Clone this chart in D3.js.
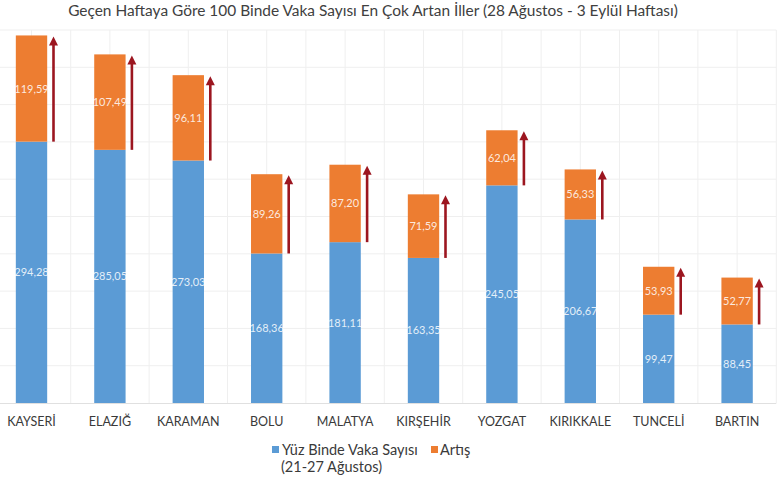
<!DOCTYPE html>
<html>
<head>
<meta charset="utf-8">
<script src="https://cdn.jsdelivr.net/npm/d3@7"></script>
<style>
  html, body { margin: 0; padding: 0; background: #fff; }
  svg { display: block; font-family: Lato, "Open Sans", sans-serif; }
</style>
</head>
<body>
<svg id="chart" width="780" height="480"></svg>
<script>
const title = "Geçen Haftaya Göre 100 Binde Vaka Sayısı En Çok Artan İller (28 Ağustos - 3 Eylül Haftası)";
const categories = ["KAYSERİ","ELAZIĞ","KARAMAN","BOLU","MALATYA","KIRŞEHİR","YOZGAT","KIRIKKALE","TUNCELİ","BARTIN"];
const baseValues = [294.28, 285.05, 273.03, 168.36, 181.11, 163.35, 245.05, 206.67, 99.47, 88.45];
const increaseValues = [119.59, 107.49, 96.11, 89.26, 87.20, 71.59, 62.04, 56.33, 53.93, 52.77];
const seriesNames = ["Yüz Binde Vaka Sayısı", "Artış"];
const legendSubtitle = "(21-27 Ağustos)";
const yMax = 420;
const gridStep = 42;

const colors = { base: "#5b9bd5", inc: "#ed7d31", arrow: "#9c1620", grid: "#efefef", text: "#3a3a3a" };
const fmt = v => v.toFixed(2).replace(".", ",");

const svg = d3.select("#chart");
const x = d3.scaleBand().domain(categories).range([-7.7, 776.3]).paddingInner(0.6).paddingOuter(0.3);
const y = d3.scaleLinear().domain([0, yMax]).range([403, 30]);
const step = x.step();

// gridlines
const grid = svg.append("g");
grid.selectAll("line.h").data(d3.range(gridStep, yMax + 1, gridStep)).join("line")
  .attr("x1", x.range()[0]).attr("x2", x.range()[1])
  .attr("y1", d => y(d)).attr("y2", d => y(d))
  .attr("stroke", colors.grid).attr("stroke-width", 1);
grid.selectAll("line.v").data(d3.range(0, categories.length * 2 + 1)).join("line")
  .attr("x1", d => x.range()[0] + d * step / 2).attr("x2", d => x.range()[0] + d * step / 2)
  .attr("y1", y(yMax)).attr("y2", y(0))
  .attr("stroke", colors.grid).attr("stroke-width", 1);
// axis baseline
svg.append("line").attr("x1", x.range()[0]).attr("x2", x.range()[1])
  .attr("y1", y(0) + 0.5).attr("y2", y(0) + 0.5).attr("stroke", "#e0e0e0");

const data = categories.map((c, i) => ({ c, base: baseValues[i], inc: increaseValues[i] }));

// bars
svg.selectAll("rect.base").data(data).join("rect")
  .attr("x", d => x(d.c)).attr("width", x.bandwidth())
  .attr("y", d => y(d.base)).attr("height", d => y(0) - y(d.base))
  .attr("fill", colors.base);
svg.selectAll("rect.inc").data(data).join("rect")
  .attr("x", d => x(d.c)).attr("width", x.bandwidth())
  .attr("y", d => y(d.base + d.inc)).attr("height", d => y(d.base) - y(d.base + d.inc))
  .attr("fill", colors.inc);

// value labels
const lbl = svg.append("g").attr("font-size", 11).attr("fill", "#fff").attr("fill-opacity", 0.85).attr("text-anchor", "middle");
lbl.selectAll("text.b").data(data).join("text")
  .attr("x", d => x(d.c) + x.bandwidth() / 2)
  .attr("y", d => (y(d.base) + y(0)) / 2 + 4)
  .text(d => fmt(d.base));
lbl.selectAll("text.i").data(data).join("text")
  .attr("x", d => x(d.c) + x.bandwidth() / 2)
  .attr("y", d => (y(d.base) + y(d.base + d.inc)) / 2 + 4)
  .text(d => fmt(d.inc));

// arrows
const arr = svg.append("g");
data.forEach(d => {
  const ax = x(d.c) + x.bandwidth() / 2 + 22;
  const top = y(d.base + d.inc) + 1;
  const bot = y(d.base);
  arr.append("line").attr("x1", ax).attr("x2", ax).attr("y1", bot).attr("y2", top + 6)
    .attr("stroke", colors.arrow).attr("stroke-width", 2.6);
  arr.append("path").attr("d", `M${ax},${top} L${ax - 4.5},${top + 9} L${ax + 4.5},${top + 9} Z`)
    .attr("fill", colors.arrow);
});

// category labels
svg.append("g").selectAll("text").data(categories).join("text")
  .attr("x", d => x(d) + x.bandwidth() / 2).attr("y", 426)
  .attr("text-anchor", "middle").attr("font-size", 12.5).attr("fill", colors.text)
  .text(d => d);

// title
const t = svg.append("text").attr("x", 373).attr("y", 16).attr("text-anchor", "middle")
  .attr("font-size", 15).attr("fill", "#404040").text(title);
const tw = t.node().getComputedTextLength();
t.attr("font-size", 15 * 610 / tw);

// legend
const lg = svg.append("g").attr("font-size", 14.5).attr("fill", colors.text);
lg.append("rect").attr("x", 272).attr("y", 446).attr("width", 7).attr("height", 7).attr("fill", colors.base);
lg.append("text").attr("x", 282).attr("y", 455).text(seriesNames[0]);
lg.append("text").attr("x", 281).attr("y", 472).text(legendSubtitle);
lg.append("rect").attr("x", 431).attr("y", 446).attr("width", 7).attr("height", 7).attr("fill", colors.inc);
lg.append("text").attr("x", 440).attr("y", 455).text(seriesNames[1]);
</script>
</body>
</html>
